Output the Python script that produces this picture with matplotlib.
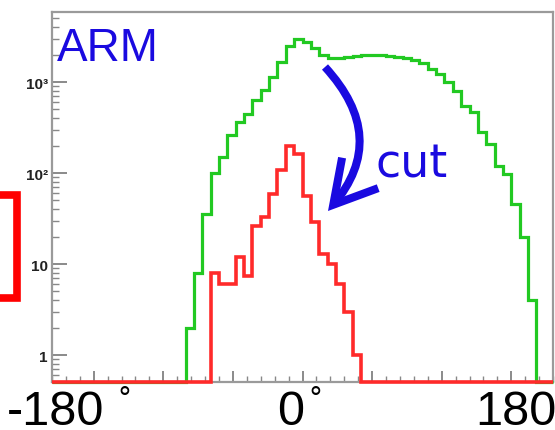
import numpy as np
import matplotlib
matplotlib.use("Agg")
import matplotlib.pyplot as plt
from matplotlib import font_manager
from matplotlib.ticker import LogLocator, FixedLocator, MultipleLocator, NullFormatter, FixedFormatter
from matplotlib.patches import Rectangle, FancyArrowPatch, ArrowStyle

# ---- data (6-degree bins from -180 to 180) ----
bin_edges_deg = [-180, 180]
n_bins = 60
green_counts = [0, 0, 0, 0, 0, 0, 0, 0, 0, 0, 0, 0, 0, 0, 0, 0,
                2, 8, 35, 100, 150, 260, 360, 445, 630, 815,
                1130, 1660, 2490, 3000, 2760, 2360, 1980, 1850, 1830, 1880,
                1930, 1960, 1980, 1980, 1950, 1900, 1830, 1750, 1620, 1390,
                1220, 1000, 800, 540, 470, 280, 210, 120, 98, 46,
                20, 4, 0, 0]
red_counts = [0, 0, 0, 0, 0, 0, 0, 0, 0, 0, 0, 0, 0, 0, 0, 0, 0, 0, 0,
              8, 6, 6, 12, 7.4, 26, 33, 59, 107, 196, 162, 56, 29, 13, 10, 6, 3, 1,
              0, 0, 0, 0, 0, 0, 0, 0, 0, 0, 0, 0, 0, 0, 0, 0, 0, 0, 0, 0, 0, 0, 0]
y_tick_values = [1, 10, 100, 1000]
y_tick_labels = ["1", "10", "10²", "10³"]
angle_labels = ["-180", "0", "180"]

W, H = 555, 431
fig = plt.figure(figsize=(W / 100, H / 100), dpi=100)
ax = fig.add_axes([52 / W, (H - 383) / H, (553 - 52) / W, (383 - 13) / H])

ymin, ymax = 0.505, 5880
edges = np.linspace(bin_edges_deg[0], bin_edges_deg[1], n_bins + 1)
g = np.array(green_counts, dtype=float)
r = np.array(red_counts, dtype=float)
g[g <= 0] = ymin
r[r <= 0] = ymin

ax.set_yscale("log")
ax.stairs(g, edges, baseline=None, color="#22c922", lw=2.3, zorder=3, clip_on=False)
ax.stairs(r, edges, baseline=None, color="#ff2a2a", lw=2.6, zorder=4, clip_on=False)

ax.set_xlim(-180, 180)
ax.set_ylim(ymin, ymax)

# ticks
ax.yaxis.set_major_locator(FixedLocator(y_tick_values))
ax.yaxis.set_major_formatter(FixedFormatter(y_tick_labels))
ax.yaxis.set_minor_locator(LogLocator(base=10, subs=np.arange(2, 10)))
ax.yaxis.set_minor_formatter(NullFormatter())
ax.xaxis.set_major_locator(MultipleLocator(50))
ax.xaxis.set_minor_locator(MultipleLocator(10))
ax.tick_params(axis="y", which="major", direction="in", length=11, width=1.2,
               color="#777777", pad=3, labelsize=11, labelcolor="#222222")
ax.tick_params(axis="y", which="minor", direction="in", length=5, width=1.0, color="#888888")
ax.tick_params(axis="x", which="major", direction="in", length=8, width=1.2,
               color="#777777", labelbottom=False)
ax.tick_params(axis="x", which="minor", direction="in", length=4, width=1.0, color="#888888")
for lab in ax.get_yticklabels():
    lab.set_fontweight("bold")
    lab.set_family("Liberation Sans")
for s in ax.spines.values():
    s.set_color("#9a9a9a")
    s.set_linewidth(1.6)

# texts
installed = {f.name for f in font_manager.fontManager.ttflist}
if "Liberation Sans Narrow" in installed:
    arm_family, arm_size = "Liberation Sans Narrow", 39
else:
    arm_family, arm_size = "Liberation Sans", 33
fig.text(57 / W, (H - 61) / H, "ARM", color="#1a0ae0", fontsize=arm_size,
         family=arm_family, ha="left", va="baseline")
fig.text(376 / W, (H - 178) / H, "cut", color="#1a0ae0", fontsize=33,
         family="DejaVu Sans", ha="left", va="baseline")

label_x = [7, 277, 475]
for lx, txt in zip(label_x, angle_labels):
    fig.text(lx / W, (H - 425) / H, txt, fontsize=35, family="Liberation Sans",
             color="black", ha="left", va="baseline")
for dx in [124, 315]:
    fig.text(dx / W, (H - 407) / H, "°", fontsize=20, family="DejaVu Sans",
             color="black", ha="center", va="baseline")

# curved arrow
arr = FancyArrowPatch((325 / W, (H - 68) / H), (328 / W, (H - 212) / H),
                      transform=fig.transFigure,
                      connectionstyle="arc3,rad=-0.44",
                      arrowstyle=ArrowStyle("->", head_length=30, head_width=17),
                      color="#1a0ae0", lw=5.8, shrinkA=0, shrinkB=0,
                      joinstyle="miter", capstyle="butt")
fig.patches.append(arr)

# red box at left edge
box = Rectangle((-60 / W, (H - 299) / H), 77 / W, 103 / H, transform=fig.transFigure,
                fill=False, edgecolor="#ff0000", lw=5.5)
fig.patches.append(box)

fig.savefig("out.png", dpi=100)
